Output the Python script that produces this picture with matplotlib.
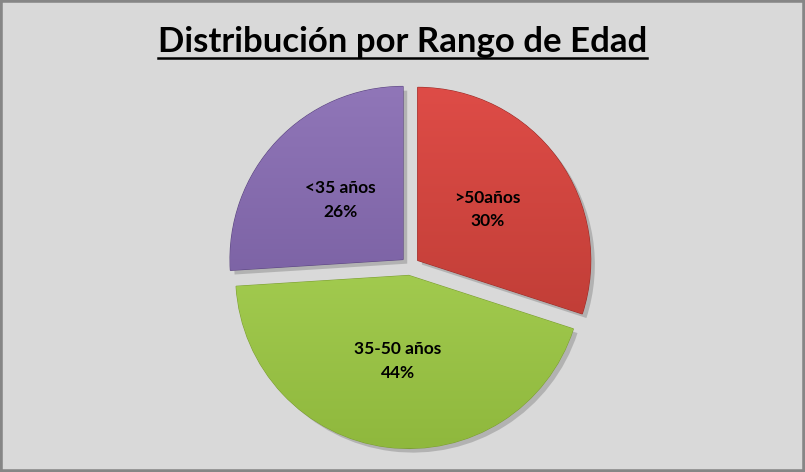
import numpy as np
import matplotlib
matplotlib.use('Agg')
import matplotlib.pyplot as plt
from matplotlib.patches import Rectangle
from matplotlib.lines import Line2D
import matplotlib.patheffects as pe

title = 'Distribución por Rango de Edad'
labels = ['>50años', '35-50 años', '<35 años']
values = [30, 44, 26]
top_colors = ['#de4c47', '#b4dc60', '#9076b8']
bottom_colors = ['#b3372f', '#8fb83d', '#6d5496']
edge_colors = ['#9a2f2b', '#7d9e36', '#5c4780']

plt.rcParams['font.family'] = ['Lato', 'DejaVu Sans']

fig = plt.figure(figsize=(8.05, 4.72), dpi=100)
fig.patch.set_facecolor('#d9d9d9')
ax = fig.add_axes([0, 0, 1, 1])
ax.set_facecolor('none')

# pie labels: name + percentage on two lines
pie_labels = ['%s\n%d%%' % (l, v) for l, v in zip(labels, values)]

wedges, texts = ax.pie(values, startangle=90, counterclock=False,
                       explode=[0.055] * 3, colors=top_colors,
                       labels=pie_labels, labeldistance=0.5,
                       wedgeprops=dict(linewidth=0.8),
                       textprops=dict(fontsize=12.5, fontweight='bold',
                                      color='black', linespacing=1.6,
                                      ha='center', va='center'))

for w, t in zip(wedges, texts):
    t.set_horizontalalignment('center')
    t.set_zorder(5)

# vertical gradient inside each wedge + shadow
for w, c_top, c_bot, c_edge in zip(wedges, top_colors, bottom_colors, edge_colors):
    w.set_edgecolor(c_edge)
    w.set_path_effects([pe.SimplePatchShadow(offset=(3, -3), alpha=0.25, shadow_rgbFace='#404040'),
                        pe.Normal()])
    x0, y0 = w.center
    r = w.r
    top = np.array(matplotlib.colors.to_rgb(c_top))
    bot = np.array(matplotlib.colors.to_rgb(c_bot))
    t = np.linspace(0, 1, 256)[:, None]
    grad = (top[None, :] * (1 - t) + bot[None, :] * t)[:, None, :]
    im = ax.imshow(grad, extent=(x0 - r, x0 + r, y0 - r, y0 + r),
                   origin='upper', aspect='auto', zorder=2, interpolation='bilinear')
    im.set_clip_path(w)

# place the pie: center at (410, 267) px, radius 173 px
r_px = 173.0
cx, cy = 410.0, 472.0 - 266.0
ax.set_aspect('auto')
ax.set_xlim(-cx / r_px, (805 - cx) / r_px)
ax.set_ylim(-cy / r_px, (472 - cy) / r_px)
ax.axis('off')

# title with underline
ttl = fig.text(0.5, 1 - 52 / 472, title, ha='center', va='baseline',
               fontsize=25, fontweight='bold', color='black')
fig.canvas.draw()
bb = ttl.get_window_extent()
uy = 1 - 58 / 472
fig.add_artist(Line2D([bb.x0 / 805, bb.x1 / 805], [uy, uy], color='black', linewidth=1.8))

# outer frame
fig.add_artist(Rectangle((0, 0), 1, 1, transform=fig.transFigure, fill=False,
                         edgecolor='#868686', linewidth=4))

fig.savefig('out.png', dpi=100, facecolor=fig.get_facecolor())
